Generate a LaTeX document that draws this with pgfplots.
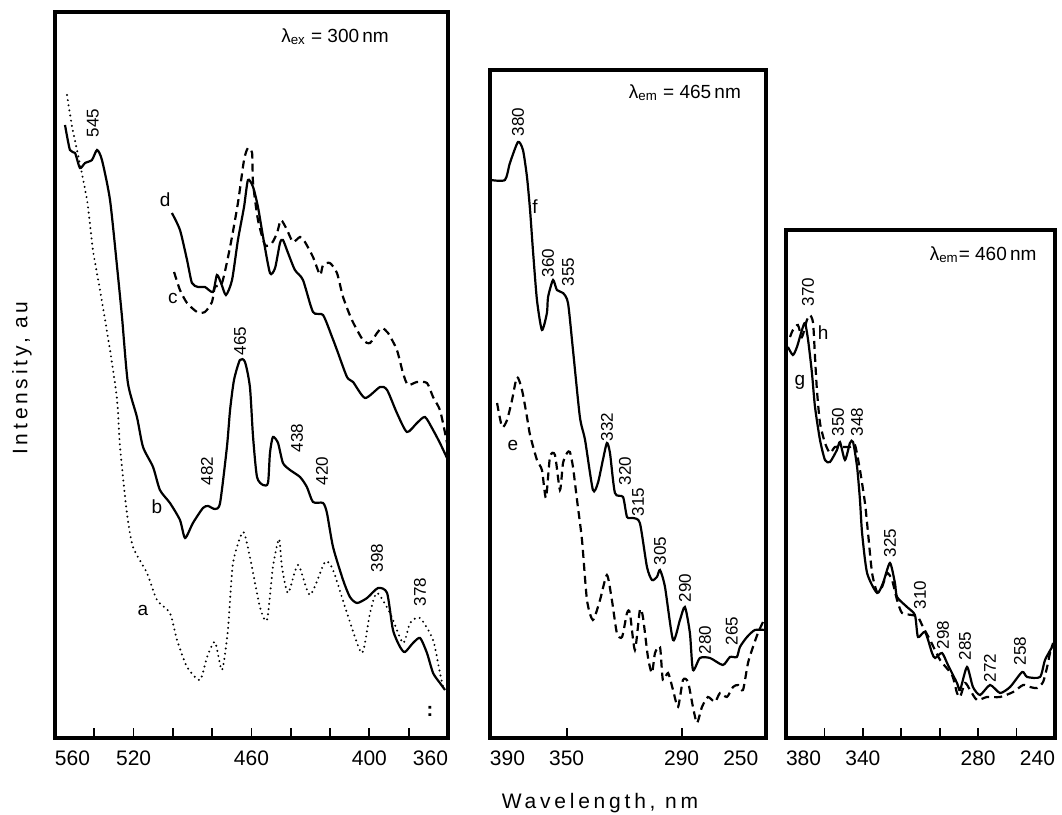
\documentclass[border=0pt]{standalone}
\usepackage{fontspec}
\setmainfont{Liberation Sans}
\newfontfamily\spaced[LetterSpace=18]{Liberation Sans}
\usepackage{pgfplots}
\pgfplotsset{compat=1.18}

% common look of the three panels (y in px above the frame bottom)
\pgfplotsset{
  spec/.style={
    scale only axis, anchor=south west, x dir=reverse,
    ytick=\empty, ymin=0,
    cycle list={{black, no markers}}, no markers,
    xtick pos=bottom, tick align=inside, major tick length=5pt,
    every tick/.style={black, line width=0.9pt},
    xticklabel style={font=\fontsize{10.5}{12}\selectfont, yshift=-3pt},
    every axis plot/.append style={black, line width=1.1pt, smooth, tension=0.4},
    after end axis/.code={\draw[line width=1.6pt, line join=miter]
      (rel axis cs:0,0) rectangle (rel axis cs:1,1);},
  },
}
\tikzset{
  lab/.style={font=\fontsize{8.5}{10}\selectfont, rotate=90, inner sep=0pt},
  letter/.style={font=\fontsize{9.5}{11}\selectfont, inner sep=0pt},
  dashline/.style={dash pattern=on 4pt off 2.5pt},
  dotline/.style={line width=1.1pt, line cap=round, dash pattern=on 0pt off 2.6pt},
}

\begin{document}
\begin{tikzpicture}[x=1pt,y=1pt]
\path[use as bounding box] (0,0) rectangle (531,407.5);

% ---------- panel 1: excitation 300 nm ----------
\begin{axis}[spec, at={(27.5pt,38.5pt)}, width=196.5pt, height=363pt,
  xmin=360, xmax=560, ymax=726,
  xtick={560,540,520,500,480,460,440,420,400,380,360},
  xticklabels={\rlap{560},{},520,{},{},460,{},{},400,{},\llap{360}}]
% a (dotted)
\addplot[dotline] coordinates {
(553.9,643)(551.3,611)(548.8,588)(543.7,538)(540.7,488)(537.1,448)(532.0,388)
(528.4,338)(526.9,291)(523.4,225)(520.3,191)(513.2,165)(508.1,138)(501.5,125)
(497.9,98)(492.8,71)(486.2,58)(482.6,81)(478.6,96)(475.0,68)(472.0,108)
(469.4,175)(464.3,206)(460.8,181)(455.7,131)(452.1,118)(449.1,171)(446.0,199)
(444.5,171)(441.4,145)(436.3,173)(430.2,143)(422.6,176)(418.5,168)(411.4,125)
(403.8,85)(399.7,125)(396.1,145)(389.5,125)(382.9,95)(379.3,115)(374.2,120)
(367.6,98)(364.1,65)(362.5,51)};
% b (solid)
\addplot coordinates {
(554.9,613)(552.4,588)(549.8,585)(547.3,570)(544.7,575)(541.2,578)(538.6,588)
(536.1,578)(532.0,538)(528.4,471)(525.9,421)(522.9,355)(518.3,321)(515.2,291)
(510.1,271)(506.6,248)(501.5,235)(496.4,218)(493.8,200)(489.8,215)(484.7,230)
(482.1,232)(478.6,229)(476.0,235)(472.5,291)(470.9,328)(468.9,358)(465.9,378)
(463.3,376)(460.8,351)(459.2,301)(457.2,261)(454.1,253)(451.6,255)(450.6,285)
(449.1,301)(446.5,295)(444.0,275)(440.4,268)(435.3,261)(431.8,251)(428.7,236)
(423.6,235)(421.6,225)(418.5,191)(413.4,158)(409.9,141)(406.3,135)(401.2,140)
(395.6,150)(391.0,145)(388.0,108)(384.4,91)(381.9,86)(377.8,95)(374.2,100)
(370.7,85)(367.6,65)(364.1,55)(361.5,48)};
% c (dashed)
\addplot[dashline] coordinates {
(499.4,466)(496.4,448)(492.8,435)(487.7,426)(483.7,426)(480.1,436)(478.6,451)
(475.0,455)(470.9,491)(466.9,535)(463.8,578)(461.8,590)(459.7,585)(459.2,555)
(456.7,518)(453.1,493)(449.6,495)(447.0,505)(445.0,518)(441.9,508)(438.9,496)
(435.3,501)(432.8,496)(428.7,481)(425.1,463)(423.6,473)(420.1,475)(416.5,465)
(413.4,441)(408.9,418)(403.3,398)(399.7,395)(396.1,405)(393.6,410)(390.5,405)
(386.0,388)(382.9,365)(380.4,353)(375.8,356)(370.7,355)(367.6,341)(364.1,328)
(361.5,305)(360.5,295)};
% d (solid)
\addplot coordinates {
(500.5,525)(496.4,508)(492.8,478)(490.3,455)(487.2,451)(483.7,451)(479.6,446)
(477.6,463)(475.5,455)(473.0,443)(469.9,458)(466.9,498)(463.8,531)(461.8,558)
(459.2,551)(456.7,531)(454.1,501)(450.6,465)(448.0,470)(445.5,495)(444.0,498)
(441.4,485)(437.9,468)(433.8,458)(428.7,426)(423.6,423)(419.0,401)(416.5,388)
(411.4,361)(408.3,356)(402.2,340)(394.6,351)(391.0,348)(386.0,325)(380.9,306)
(375.8,315)(371.7,321)(367.6,308)(364.1,295)(360.5,280)};
\node[lab] at (axis cs:540.7,615) {545};
\node[lab] at (axis cs:465.9,397) {465};
\node[lab] at (axis cs:482.6,267) {482};
\node[lab] at (axis cs:436.8,300) {438};
\node[lab] at (axis cs:424.1,267) {420};
\node[lab] at (axis cs:396.1,180) {398};
\node[lab] at (axis cs:374.2,146) {378};
\node[letter] at (axis cs:515.2,128) {a};
\node[letter] at (axis cs:508.1,231) {b};
\node[letter] at (axis cs:500.0,440) {c};
\node[letter] at (axis cs:504.0,538) {d};
\node[font=\fontsize{9.5}{11}\selectfont] at (axis cs:417.5,701) {λ\textsubscript{ex} = 300\,nm};
\node[font=\fontsize{10}{11}\selectfont\bfseries] at (axis cs:369.2,27) {:};
\end{axis}

% ---------- panel 2: emission 465 nm ----------
\begin{axis}[spec, at={(245pt,38.5pt)}, width=138pt, height=334pt,
  xmin=246, xmax=390, ymax=668,
  xtick={350,290}, xticklabels={350,290},
  extra x ticks={390,250}, extra x tick labels={\rlap{390},\llap{250}},
  extra x tick style={major tick length=0pt}]
% e (dashed)
\addplot[dashline] coordinates {
(386.3,335)(383.7,311)(381.1,318)(378.5,338)(375.9,361)(373.3,348)(370.7,321)
(369.1,303)(365.5,278)(362.9,268)(360.8,240)(358.7,281)(356.1,283)(353.5,248)
(351.9,275)(349.8,285)(348.3,286)(346.7,271)(344.6,238)(342.0,198)(339.4,138)
(336.3,118)(332.6,138)(329.0,163)(326.4,138)(323.8,105)(321.1,101)(318.5,125)
(317.0,125)(314.4,88)(311.8,128)(310.2,121)(307.6,81)(305.5,65)(303.9,85)
(301.3,91)(299.8,58)(297.1,65)(294.5,48)(291.9,31)(289.3,58)(286.7,56)
(284.1,31)(282.0,15)(279.4,31)(276.3,41)(272.6,36)(270.0,45)(266.4,41)
(263.2,51)(260.6,53)(258.0,48)(255.4,75)(252.8,91)(250.2,105)(247.1,118)};
% f (solid)
\addplot coordinates {
(389.5,558)(382.2,558)(379.6,575)(375.4,596)(372.8,588)(370.7,561)(369.1,528)
(367.6,488)(365.5,438)(362.9,408)(360.3,425)(359.7,441)(357.1,458)(355.1,448)
(351.9,445)(349.3,435)(346.7,388)(343.1,321)(340.4,298)(336.3,248)(333.7,255)
(331.1,278)(329.0,295)(327.4,285)(324.8,245)(320.6,241)(318.5,221)(315.4,220)
(311.8,215)(308.1,171)(305.5,158)(302.9,161)(301.3,168)(298.7,151)(294.5,98)
(290.9,118)(288.3,131)(285.7,105)(284.1,68)(280.5,80)(275.2,80)(268.5,73)
(264.8,81)(261.2,81)(259.6,91)(255.9,101)(251.8,108)(246.5,108)};
\node[lab] at (axis cs:375.4,616) {380};
\node[lab] at (axis cs:359.7,475) {360};
\node[lab] at (axis cs:349.3,466) {355};
\node[lab] at (axis cs:329.0,311) {332};
\node[lab] at (axis cs:319.6,267) {320};
\node[lab] at (axis cs:312.8,236) {315};
\node[lab] at (axis cs:301.3,187) {305};
\node[lab] at (axis cs:288.3,150) {290};
\node[lab] at (axis cs:277.8,98) {280};
\node[lab] at (axis cs:263.8,107) {265};
\node[letter] at (axis cs:366.5,531) {f};
\node[letter] at (axis cs:378.0,293) {e};
\node[font=\fontsize{9.5}{11}\selectfont] at (axis cs:288.3,645) {λ\textsubscript{em} = 465\,nm};
\end{axis}

% ---------- panel 3: emission 460 nm ----------
\begin{axis}[spec, at={(393pt,38.5pt)}, width=134.5pt, height=254pt,
  xmin=240, xmax=380, ymax=508,
  xtick={380,360,340,320,300,280,260,240},
  xticklabels={\rlap{380},{},340,{},{},280,{},\llap{240}}]
% h (dashed)
\addplot[dashline] coordinates {
(377.9,401)(376.4,408)(373.8,413)(371.7,401)(369.1,418)(367.5,423)(365.9,415)
(364.9,381)(363.9,348)(362.3,315)(359.7,295)(357.1,285)(354.5,291)(350.3,291)
(346.7,291)(344.1,293)(341.5,268)(338.9,235)(337.3,205)(335.2,165)(332.6,146)
(330.0,151)(327.4,165)(324.8,158)(322.2,138)(319.6,125)(314.4,123)(311.3,121)
(308.7,111)(305.0,98)(299.8,78)(293.6,63)(291.0,45)(289.4,41)(286.8,55)
(284.2,48)(280.6,38)(275.4,41)(268.6,41)(261.8,46)(256.6,53)(253.0,51)
(249.3,50)(246.2,56)(244.1,71)(242.6,85)(241.0,95)};
% g (solid)
\addplot coordinates {
(379.0,391)(376.4,383)(374.3,391)(371.7,408)(370.1,415)(368.5,398)(366.5,365)
(364.9,331)(362.3,298)(359.7,278)(357.1,276)(353.5,288)(351.9,296)(349.3,278)
(346.7,295)(345.1,296)(343.0,271)(341.5,238)(340.4,205)(337.8,165)(332.6,145)
(329.5,155)(325.9,175)(323.3,155)(322.2,141)(317.0,131)(312.9,123)(311.3,101)
(307.6,106)(304.0,85)(302.4,80)(298.8,85)(295.7,73)(291.0,55)(289.4,48)
(285.8,71)(282.7,51)(279.0,43)(273.8,53)(268.6,45)(263.4,51)(257.1,66)
(254.5,61)(247.8,61)(245.2,78)(241.5,91)};
\node[lab] at (axis cs:368.5,446) {370};
\node[lab] at (axis cs:352.9,316) {350};
\node[lab] at (axis cs:343.0,316) {348};
\node[lab] at (axis cs:325.9,195) {325};
\node[lab] at (axis cs:310.2,143) {310};
\node[lab] at (axis cs:298.3,103) {298};
\node[lab] at (axis cs:286.8,92) {285};
\node[lab] at (axis cs:273.8,70) {272};
\node[lab] at (axis cs:258.2,87) {258};
\node[letter] at (axis cs:360.7,405) {h};
\node[letter] at (axis cs:372.7,356) {g};
\node[font=\fontsize{9.5}{11}\selectfont] at (axis cs:277.4,483) {λ\textsubscript{em}= 460\,nm};
\end{axis}

% shared axis titles
\node[rotate=90, font=\spaced\fontsize{10.5}{12}\selectfont] at (11,218.5) {Intensity, au};
\node[font=\spaced\fontsize{10.5}{12}\selectfont] at (300,6) {Wavelength, nm};
\end{tikzpicture}
\end{document}
